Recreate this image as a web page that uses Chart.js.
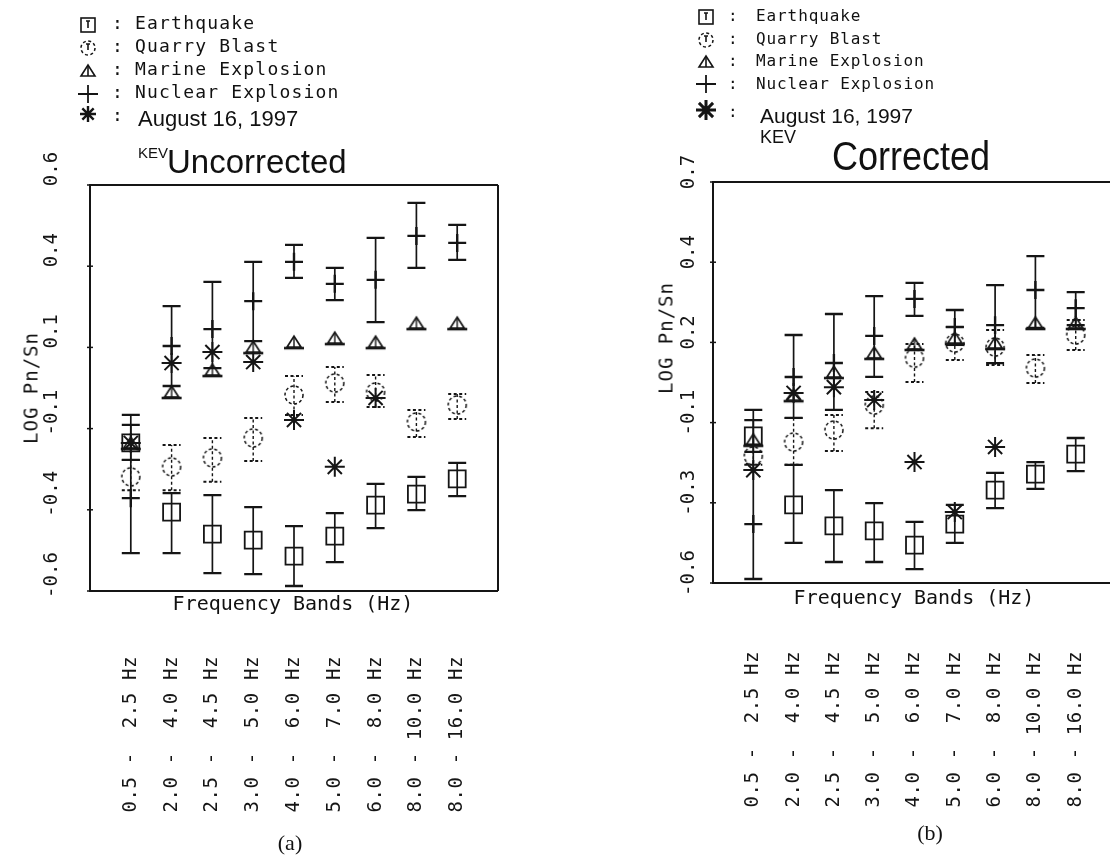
<!DOCTYPE html>
<html>
<head>
<meta charset="utf-8">
<script src="https://cdn.jsdelivr.net/npm/chart.js@4.4.1/dist/chart.umd.min.js"></script>
<style>
html, body { margin: 0; padding: 0; background: #fff; overflow: hidden; }
#wrap { position: relative; width: 1110px; height: 860px; overflow: hidden; }
canvas { position: absolute; top: 0; }
#cA { left: 0; }
#cB { left: 555px; }
.t { position: absolute; white-space: pre; line-height: 1; color: #111; }
.mono { font-family: "DejaVu Sans Mono", monospace; }
.sans { font-family: "Liberation Sans", Arial, sans-serif; }
.serif { font-family: "Liberation Serif", "Times New Roman", serif; }
.rot { transform: translate(-50%, -50%) rotate(-90deg); }
</style>
</head>
<body>
<div id="wrap">
  <canvas id="cA" width="555" height="860"></canvas>
  <canvas id="cB" width="600" height="860"></canvas>

  <!-- legend (a) -->
  <div class="t mono" style="left:112px;top:13.8px;font-size:18px">:</div>
  <div class="t mono" style="left:112px;top:36.8px;font-size:18px">:</div>
  <div class="t mono" style="left:112px;top:59.8px;font-size:18px">:</div>
  <div class="t mono" style="left:112px;top:82.8px;font-size:18px">:</div>
  <div class="t mono" style="left:112px;top:105.8px;font-size:18px">:</div>
  <div class="t mono" style="left:135px;top:13.8px;font-size:18px;letter-spacing:1.2px">Earthquake</div>
  <div class="t mono" style="left:135px;top:36.8px;font-size:18px;letter-spacing:1.2px">Quarry Blast</div>
  <div class="t mono" style="left:135px;top:59.8px;font-size:18px;letter-spacing:1.2px">Marine Explosion</div>
  <div class="t mono" style="left:135px;top:82.8px;font-size:18px;letter-spacing:1.2px">Nuclear Explosion</div>
  <div class="t sans" style="left:138px;top:108.4px;font-size:22px">August 16, 1997</div>
  <div class="t sans" style="left:138px;top:145.3px;font-size:15px">KEV</div>
  <div class="t sans" style="left:167px;top:144.2px;font-size:34px;transform:scaleX(0.97);transform-origin:left">Uncorrected</div>

  <!-- legend (b) -->
  <div class="t mono" style="left:728px;top:7.5px;font-size:16px">:</div>
  <div class="t mono" style="left:728px;top:30.5px;font-size:16px">:</div>
  <div class="t mono" style="left:728px;top:52.5px;font-size:16px">:</div>
  <div class="t mono" style="left:728px;top:75.5px;font-size:16px">:</div>
  <div class="t mono" style="left:728px;top:103.5px;font-size:16px">:</div>
  <div class="t mono" style="left:756px;top:7.5px;font-size:16px;letter-spacing:0.9px">Earthquake</div>
  <div class="t mono" style="left:756px;top:30.5px;font-size:16px;letter-spacing:0.9px">Quarry Blast</div>
  <div class="t mono" style="left:756px;top:52.5px;font-size:16px;letter-spacing:0.9px">Marine Explosion</div>
  <div class="t mono" style="left:756px;top:75.5px;font-size:16px;letter-spacing:0.9px">Nuclear Explosion</div>
  <div class="t sans" style="left:760px;top:105.2px;font-size:21px">August 16, 1997</div>
  <div class="t sans" style="left:760px;top:127.8px;font-size:18px">KEV</div>
  <div class="t sans" style="left:832px;top:136.2px;font-size:40px;transform:scaleX(0.9);transform-origin:left">Corrected</div>

  <!-- axis titles -->
  <div class="t mono rot" style="left:31px;top:388px;font-size:19px;letter-spacing:1px">LOG Pn/Sn</div>
  <div class="t mono rot" style="left:666px;top:338px;font-size:19px;letter-spacing:1px">LOG Pn/Sn</div>
  <div class="t mono" style="left:293px;top:593px;font-size:20px;transform:translateX(-50%)">Frequency Bands (Hz)</div>
  <div class="t mono" style="left:914px;top:587px;font-size:20px;transform:translateX(-50%)">Frequency Bands (Hz)</div>

  <div class="t serif" style="left:290px;top:832px;font-size:22px;transform:translateX(-50%)">(a)</div>
  <div class="t serif" style="left:930px;top:822px;font-size:22px;transform:translateX(-50%)">(b)</div>
</div>

<script>
// frequency bands (x categories at 1..9)
const bandLabels = ['0.5 -  2.5 Hz', '2.0 -  4.0 Hz', '2.5 -  4.5 Hz', '3.0 -  5.0 Hz', '4.0 -  6.0 Hz',
                    '5.0 -  7.0 Hz', '6.0 -  8.0 Hz', '8.0 - 10.0 Hz', '8.0 - 16.0 Hz'];
const bandPos = [1, 2, 3, 4, 5, 6, 7, 8, 9];

// y ticks
const uncTickValues = [-0.62, -0.376, -0.132, 0.112, 0.356, 0.6];
const uncTickLabels = ['-0.6', '-0.4', '-0.1', '0.1', '0.4', '0.6'];
const corTickValues = [-0.6, -0.34, -0.08, 0.18, 0.44, 0.7];
const corTickLabels = ['-0.6', '-0.3', '-0.1', '0.2', '0.4', '0.7'];

// (a) uncorrected
const eqUnc   = [-0.175, -0.383, -0.449, -0.467, -0.515, -0.455, -0.362, -0.329, -0.283];
const eqUncLo = [-0.226, -0.506, -0.566, -0.569, -0.605, -0.533, -0.431, -0.377, -0.335];
const eqUncHi = [-0.121, -0.326, -0.332, -0.368, -0.425, -0.386, -0.298, -0.277, -0.235];
const qbUnc   = [-0.277, -0.247, -0.220, -0.160, -0.031, 0.005, -0.022, -0.112, -0.061];
const qbUncLo = [-0.317, -0.317, -0.292, -0.229, -0.091, -0.052, -0.067, -0.157, -0.103];
const qbUncHi = [-0.226, -0.181, -0.160, -0.100, 0.026, 0.053, 0.029, -0.076, -0.028];
const meUnc   = [-0.175, -0.022, 0.044, 0.113, 0.128, 0.140, 0.128, 0.185, 0.185];
const neUnc   = [-0.341, 0.116, 0.167, 0.251, 0.369, 0.303, 0.315, 0.447, 0.426];
const neUncLo = [-0.506, -0.004, 0.050, 0.131, 0.321, 0.254, 0.188, 0.351, 0.375];
const neUncHi = [-0.091, 0.236, 0.309, 0.369, 0.420, 0.351, 0.441, 0.546, 0.480];
const augUnc  = [-0.175, 0.065, 0.098, 0.068, -0.106, -0.247, -0.040, null, null];

// (b) corrected
const eqCor   = [-0.123, -0.347, -0.415, -0.431, -0.477, -0.409, -0.299, -0.247, -0.182];
const eqCorLo = [-0.175, -0.470, -0.532, -0.532, -0.555, -0.470, -0.357, -0.295, -0.237];
const eqCorHi = [-0.072, -0.217, -0.299, -0.341, -0.402, -0.347, -0.243, -0.208, -0.130];
const qbCor   = [-0.188, -0.143, -0.104, -0.023, 0.129, 0.178, 0.165, 0.097, 0.204];
const qbCorLo = [-0.217, -0.217, -0.172, -0.098, 0.052, 0.123, 0.107, 0.048, 0.155];
const qbCorHi = [-0.153, -0.065, -0.055, 0.019, 0.175, 0.230, 0.220, 0.139, 0.253];
const meCor   = [-0.136, 0.009, 0.084, 0.146, 0.175, 0.194, 0.178, 0.243, 0.243];
const neCor   = [-0.409, 0.068, 0.113, 0.201, 0.321, 0.230, 0.236, 0.350, 0.291];
const neCorLo = [-0.587, -0.065, -0.039, 0.068, 0.266, 0.172, 0.113, 0.227, 0.236];
const neCorHi = [-0.039, 0.204, 0.272, 0.330, 0.373, 0.285, 0.366, 0.460, 0.343];
const augCor  = [-0.234, 0.016, 0.035, -0.007, -0.208, -0.370, -0.159, null, null];

const INK = '#151515';

// marker images
function dashedCircle(r) {
  const c = document.createElement('canvas');
  c.width = c.height = 2 * r + 4;
  const g = c.getContext('2d');
  g.strokeStyle = INK;
  g.lineWidth = 1.5;
  g.setLineDash([3, 2.5]);
  g.beginPath();
  g.arc(c.width / 2, c.height / 2, r, 0, Math.PI * 2);
  g.stroke();
  return c;
}

function marineTriangle() {
  const c = document.createElement('canvas');
  c.width = 24; c.height = 20;
  const g = c.getContext('2d');
  g.strokeStyle = INK;
  g.lineWidth = 1.7;
  g.beginPath();
  g.moveTo(5, 15); g.lineTo(12, 4); g.lineTo(19, 15); g.closePath();
  g.stroke();
  g.lineWidth = 2.6;
  g.beginPath(); g.moveTo(2, 16); g.lineTo(22, 16); g.stroke();
  g.lineWidth = 1.4;
  g.beginPath(); g.moveTo(12, 4); g.lineTo(12, 15); g.stroke();
  return c;
}

const quarryImg = dashedCircle(9);
const marineImg = marineTriangle();

function series(label, vals, lo, hi, style) {
  return Object.assign({
    label,
    data: vals.map((v, i) => ({ x: bandPos[i], y: v, lo: lo ? lo[i] : null, hi: hi ? hi[i] : null })),
    borderColor: INK,
    backgroundColor: 'rgba(0,0,0,0)',
    showLine: false
  }, style);
}

const errorBars = {
  id: 'errorBars',
  beforeDatasetsDraw(chart) {
    const { ctx, scales: { x, y } } = chart;
    chart.data.datasets.forEach(ds => {
      if (!ds.bars) return;
      ctx.save();
      ctx.strokeStyle = INK;
      ctx.lineWidth = ds.bars.width;
      ctx.setLineDash(ds.bars.dash);
      ds.data.forEach(p => {
        if (p.y == null || p.lo == null) return;
        const px = x.getPixelForValue(p.x);
        const y1 = y.getPixelForValue(p.lo);
        const y2 = y.getPixelForValue(p.hi);
        const cap = 9;
        ctx.beginPath();
        ctx.moveTo(px, y1); ctx.lineTo(px, y2);
        ctx.stroke();
        ctx.lineWidth = ds.bars.width + 0.6;
        ctx.beginPath();
        ctx.moveTo(px - cap, y1); ctx.lineTo(px + cap, y1);
        ctx.moveTo(px - cap, y2); ctx.lineTo(px + cap, y2);
        ctx.stroke();
        ctx.lineWidth = ds.bars.width;
      });
      ctx.restore();
    });
  }
};

function legendSymbol(ctx, kind, x, y, big) {
  ctx.save();
  ctx.strokeStyle = INK;
  ctx.lineWidth = 1.6;
  if (kind === 'eq') {
    ctx.strokeRect(x - 7, y - 7, 14, 14);
    ctx.beginPath(); ctx.moveTo(x - 2, y - 4); ctx.lineTo(x + 2, y - 4);
    ctx.moveTo(x, y - 4); ctx.lineTo(x, y + 3); ctx.stroke();
  } else if (kind === 'qb') {
    ctx.drawImage(dashedCircle(7), x - 9, y - 9);
    ctx.beginPath(); ctx.moveTo(x - 2, y - 4); ctx.lineTo(x + 2, y - 4);
    ctx.moveTo(x, y - 4); ctx.lineTo(x, y + 2); ctx.stroke();
  } else if (kind === 'me') {
    ctx.beginPath();
    ctx.moveTo(x - 7, y + 5); ctx.lineTo(x, y - 6); ctx.lineTo(x + 7, y + 5); ctx.closePath();
    ctx.stroke();
    ctx.beginPath(); ctx.moveTo(x, y - 6); ctx.lineTo(x, y + 5); ctx.stroke();
  } else if (kind === 'ne') {
    ctx.lineWidth = 1.8;
    ctx.beginPath();
    ctx.moveTo(x - 10, y); ctx.lineTo(x + 10, y);
    ctx.moveTo(x, y - 9); ctx.lineTo(x, y + 9);
    ctx.stroke();
  } else {
    const r = big ? 10 : 8;
    ctx.lineWidth = big ? 3 : 2.4;
    ctx.beginPath();
    for (let k = 0; k < 4; k++) {
      const a = k * Math.PI / 4;
      ctx.moveTo(x - r * Math.cos(a), y - r * Math.sin(a));
      ctx.lineTo(x + r * Math.cos(a), y + r * Math.sin(a));
    }
    ctx.stroke();
  }
  ctx.restore();
}

const deco = {
  id: 'deco',
  afterDraw(chart, args, o) {
    const { ctx, chartArea: a, scales: { x, y } } = chart;
    ctx.save();
    // frame
    ctx.strokeStyle = INK;
    ctx.lineWidth = 2;
    ctx.beginPath();
    ctx.moveTo(a.right, a.top); ctx.lineTo(a.left, a.top); ctx.lineTo(a.left, a.bottom); ctx.lineTo(a.right, a.bottom);
    if (o.closeRight) { ctx.moveTo(a.right, a.top); ctx.lineTo(a.right, a.bottom); }
    ctx.stroke();
    // y ticks + labels
    ctx.lineWidth = 1.5;
    ctx.fillStyle = INK;
    ctx.font = '19px "DejaVu Sans Mono"';
    o.tickValues.forEach((v, i) => {
      const py = y.getPixelForValue(v);
      ctx.beginPath(); ctx.moveTo(a.left - 3, py); ctx.lineTo(a.left + 3, py); ctx.stroke();
      ctx.save();
      ctx.translate(o.labelX, py + o.labelOffset);
      ctx.rotate(-Math.PI / 2);
      ctx.textAlign = 'center';
      ctx.textBaseline = 'middle';
      ctx.fillText(o.tickLabels[i], 0, 0);
      ctx.restore();
    });
    // band labels
    ctx.letterSpacing = '0.6px';
    bandPos.forEach((v, i) => {
      ctx.save();
      ctx.translate(x.getPixelForValue(v), o.catTop);
      ctx.rotate(-Math.PI / 2);
      ctx.textAlign = 'right';
      ctx.textBaseline = 'middle';
      ctx.fillText(bandLabels[i], 0, 0);
      ctx.restore();
    });
    ctx.restore();
    // legend symbols
    const L = o.legend;
    ['eq', 'qb', 'me', 'ne', 'aug'].forEach((k, i) => legendSymbol(ctx, k, L.x, L.ys[i], L.big));
  }
};

function panel(id, p) {
  return new Chart(document.getElementById(id), {
    type: 'scatter',
    data: {
      datasets: [
        series('August 16, 1997', p.aug, null, null, { pointStyle: 'star', pointRadius: 10, borderWidth: 2 }),
        series('Nuclear Explosion', p.ne, p.neLo, p.neHi, { pointStyle: 'cross', pointRadius: 9, borderWidth: 2.4, bars: { width: 1.7, dash: [] } }),
        series('Marine Explosion', p.me, null, null, { pointStyle: marineImg, pointRadius: 6 }),
        series('Quarry Blast', p.qb, p.qbLo, p.qbHi, { pointStyle: quarryImg, pointRadius: 6, bars: { width: 1.4, dash: [3, 2.5] } }),
        series('Earthquake', p.eq, p.eqLo, p.eqHi, { pointStyle: 'rect', pointRadius: 12, borderWidth: 1.8, bars: { width: 1.7, dash: [] } })
      ]
    },
    options: {
      responsive: false,
      animation: false,
      events: [],
      layout: { padding: p.pad },
      plugins: {
        legend: { display: false },
        tooltip: { enabled: false },
        deco: p.deco
      },
      scales: {
        x: { type: 'linear', display: false, min: 0, max: 10 },
        y: { type: 'linear', display: false, min: p.yMin, max: p.yMax }
      }
    },
    plugins: [errorBars, deco]
  });
}

panel('cA', {
  eq: eqUnc, eqLo: eqUncLo, eqHi: eqUncHi,
  qb: qbUnc, qbLo: qbUncLo, qbHi: qbUncHi,
  me: meUnc,
  ne: neUnc, neLo: neUncLo, neHi: neUncHi,
  aug: augUnc,
  yMin: -0.62, yMax: 0.6,
  pad: { left: 90, top: 185, right: 57, bottom: 269 },
  deco: {
    tickValues: uncTickValues, tickLabels: uncTickLabels,
    labelX: 52, labelOffset: -16, catTop: 656, closeRight: true,
    legend: { x: 88, ys: [25, 48, 71, 94, 114], big: false }
  }
});

panel('cB', {
  eq: eqCor, eqLo: eqCorLo, eqHi: eqCorHi,
  qb: qbCor, qbLo: qbCorLo, qbHi: qbCorHi,
  me: meCor,
  ne: neCor, neLo: neCorLo, neHi: neCorHi,
  aug: augCor,
  yMin: -0.6, yMax: 0.7,
  pad: { left: 158, top: 182, right: 39, bottom: 277 },
  deco: {
    tickValues: corTickValues, tickLabels: corTickLabels,
    labelX: 134, labelOffset: -10, catTop: 651, closeRight: true,
    legend: { x: 151, ys: [17, 40, 62, 84, 110], big: true }
  }
});
</script>
</body>
</html>
